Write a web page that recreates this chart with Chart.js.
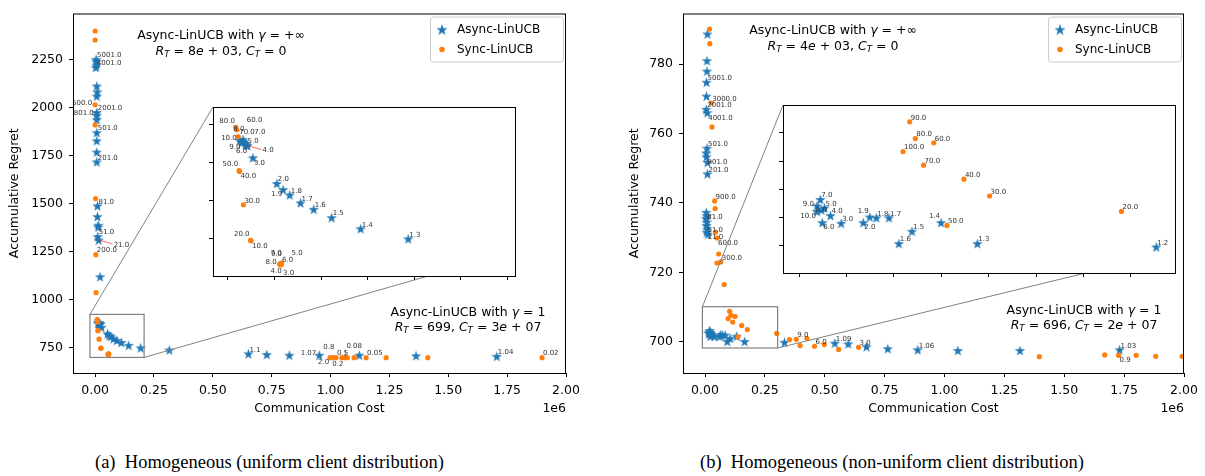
<!DOCTYPE html>
<html>
<head>
<meta charset="utf-8">
<title>Async-LinUCB vs Sync-LinUCB</title>
<script src="https://cdn.jsdelivr.net/npm/chart.js@4.4.1/dist/chart.umd.min.js"></script>
<style>
  html, body { margin: 0; padding: 0; background: #fff; }
  #wrap { position: relative; width: 1205px; height: 476px; overflow: hidden; background: #fff; }
  canvas { position: absolute; }
  .cap { position: absolute; top: 452px; font: 18.5px "Liberation Serif", serif; white-space: pre; color: #000; }
</style>
</head>
<body>
<div id="wrap">
  <canvas id="mainA" width="600" height="420" style="left:0px;top:0px"></canvas>
  <canvas id="insetA" width="313" height="179" style="left:208px;top:102px"></canvas>
  <canvas id="mainB" width="595" height="420" style="left:610px;top:0px"></canvas>
  <canvas id="insetB" width="403" height="178" style="left:778px;top:100px"></canvas>
  <div class="cap" style="left:95px">(a)  Homogeneous (uniform client distribution)</div>
  <div class="cap" style="left:700px">(b)  Homogeneous (non-uniform client distribution)</div>
</div>
<script>
const BLUE = '#1f77b4';
const ORANGE = '#ff7f0e';

// ---- (a) uniform client distribution ----
const asyncCostA = [4000, 5000, 3000, 6000, 7000, 9000, 7000, 7000, 7000, 7000,
  7000, 7000, 7000, 7000, 10000, 10000, 13000, 13000, 11000, 15000,
  21000, 12700, 14500, 16000, 17500, 19000, 20000, 21000, 26800, 52500,
  59200, 66300, 77900, 92000, 111300, 142400, 193400, 315000, 651000, 729000,
  825000, 952000, 1122000, 1363000, 1706000];
const asyncRegretA = [2250, 2240, 2208, 2220, 2112, 2081, 2059, 1974, 1960, 1937,
  1869, 1827, 1768, 1717, 1488, 1432, 1387, 1378, 1328, 1310,
  1119, 879, 876, 880, 877, 874, 873, 872, 856, 822,
  814, 807, 796.5, 788, 777, 762.4, 749, 738, 718, 714,
  711, 711, 711, 708, 705];
const asyncTagA = ['5001.0', '', '4001.0', '', '', '', '', '2001.0', '801.0', '',
  '501.0', '', '', '201.0', '81.0', '', '', '', '51.0', '21.0',
  '', '10.0', '9.0', '8.0', '7.0', '6.0', '5.0', '4.0', '3.0', '2.0',
  '1.9', '1.8', '1.7', '1.6', '1.5', '1.4', '1.3', '', '1.1', '',
  '', '1.07', '', '', '1.04'];
const asyncSideA = 'rrrrrrrrlr' + 'rrrrrrrrra' + 'rlLuRbradr' + 'Lrrrrrrrrr' + 'rlrrr';

const syncCostA = [0, 0, 0, 0, 2000, 3000, 4000, 8500, 9500, 11000,
  12000, 12500, 16600, 24300, 24800, 56400, 56000, 57500, 57000, 55500,
  56000, 57000, 998000, 1010000, 1023000, 1048000, 1063000, 1071000, 1100000, 1151000,
  1236000, 1413000, 1898000];
const syncRegretA = [2398, 2351, 2014, 1909, 1526, 1234, 1036, 896, 893, 884,
  839, 838, 794, 747, 746.5, 716, 716.5, 717, 716, 715.5,
  715, 715, 698, 698, 698, 698, 698, 698, 698, 698,
  698, 698, 698];
const syncTagA = ['', '', '500.0', '', '', '200.0', '', '80.0', '60.0', '70.0',
  '50.0', '40.0', '30.0', '20.0', '10.0', '9.0', '7.0', '5.0', '6.0', '8.0',
  '4.0', '3.0', '2.0', '0.8', '0.5', '0.2', '0.08', '', '', '0.05',
  '', '', '0.02'];
const syncSideA = 'rrlrrrrURr' + 'UdrUduuRrl' + 'bDLurbArrr' + 'rrr';

// ---- (b) non-uniform client distribution ----
const asyncCostB = [10000, 8000, 8000, 6000, 6000, 5000, 9000, 8000, 5000, 6000,
  10000, 10000, 5000, 7000, 4000, 8000, 6000, 9000, 7000, 12000,
  19700, 16500, 23600, 20600, 16500, 29100, 21500, 39000, 59500, 65600,
  71700, 83400, 92600, 104800, 131800, 165500, 331600, 542000, 598000, 674000,
  763000, 888000, 1056000, 1315000, 1731000];
const asyncRegretB = [788.7, 781, 778, 774.8, 770.8, 767, 766, 755.8, 754.4, 753.3,
  751.7, 748.4, 737.3, 736.3, 735.5, 734.5, 733.5, 732.5, 731.6, 731,
  703.25, 702.8, 702.65, 702.5, 702.4, 702.1, 701.6, 701.55, 701.6, 702.0,
  701.95, 701.95, 700.1, 700.98, 701.6, 700.1, 699.86, 699.6, 699.4, 698.6,
  698.0, 697.7, 697.5, 697.5, 697.7];
const asyncTagB = ['', '', '', '5001.0', '', '2001.0', '4001.0', '501.0', '', '801.0',
  '', '201.0', '81.0', '', '', '', '51.0', '', '21.0', '',
  '7.0', '9.0', '5.0', '8.0', '10.0', '4.0', '6.0', '3.0', '2.0', '1.9',
  '1.8', '1.7', '1.6', '1.5', '1.4', '1.3', '1.2', '1.09', '', '',
  '', '1.06', '', '', '1.03'];
const asyncSideB = 'rrrrrrdrrd' + 'rrdrrrdrdr' + 'rlrmLrdrdU' + 'rrrrUrrrrr' + 'rrrrr';

const syncCostB = [19000, 20000, 26000, 29000, 40000, 42000, 44000, 50000, 57000, 50000,
  66000, 80000, 102700, 107900, 125000, 96500, 115600, 153000, 176900, 299400,
  137300, 353000, 381000, 397000, 425000, 457000, 498000, 558000, 641000, 1396000,
  1669000, 1727000, 1800000, 1882000, 1992000];
const syncRegretB = [790.1, 785.9, 768.8, 761.9, 740.6, 738.4, 731.6, 729.9, 725.3, 722.7,
  723.0, 716.5, 708.8, 707.6, 707.3, 706.67, 705.7, 704.7, 703.5, 702.4,
  701.4, 700.6, 700.7, 698.9, 701.0, 698.7, 699.2, 697.8, 698.4, 695.7,
  696.2, 696.1, 696.1, 695.8, 695.8];
const syncTagB = ['', '', '3000.0', '', '900.0', '', '', '600.0', '', '',
  '300.0', '', '90.0', '80.0', '60.0', '100.0', '70.0', '40.0', '30.0', '20.0',
  '50.0', '', '9.0', '', '', '6.0', '', '', '3.0', '',
  '', '0.9', '', '', '0.6'];
const syncSideB = 'rrrrrrrdrr' + 'rrrrrrrrrr' + 'rrrrrrrrrr' + 'rdrrr';

// ---- ticks ----
const xTicks = [0, 250000, 500000, 750000, 1000000, 1250000, 1500000, 1750000, 2000000];
const yTicksA = [750, 1000, 1250, 1500, 1750, 2000, 2250];
const yTicksB = [700, 720, 740, 760, 780];
const insetXTicksA = [0, 50000, 100000, 150000, 200000, 250000, 300000];
const insetYTicksA = [750, 800, 850, 900];
const insetXTicksB = [0, 44000, 88000, 132000, 176000, 220000, 264000, 308000];
const insetYTicksB = [700, 702, 704, 706, 708];

// marked box in the main plot, and the limits of the inset
const boxA = { x: [-22000, 208000], y: [699, 923] };
const insetRangeA = { x: [-16000, 309000], y: [700, 923] };
const boxB = { x: [-11000, 303000], y: [698.2, 710.1] };
const insetRangeB = { x: [-15000, 350000], y: [698, 710] };

// where a point's tag sits: dx, dy, align
const TAG_OFFSETS = {
  r: [1, -4, 'left'], d: [1, 5, 'left'], D: [2, 9, 'left'], R: [10, -10, 'left'],
  l: [-3, -2, 'right'], L: [-1, 5, 'right'], U: [-1, -6, 'right'],
  u: [-4, -10, 'center'], b: [-4, 7, 'center'], m: [0, 0, 'center'],
  a: [15, 5, 'left'], A: [1, -11, 'left']
};

function makeStar(size) {
  const c = document.createElement('canvas');
  c.width = c.height = size;
  const g = c.getContext('2d');
  const R = size / 2, r = R * 0.382, cx = size / 2, cy = size / 2 + R * 0.1;
  g.beginPath();
  for (let i = 0; i < 10; i++) {
    const ang = -Math.PI / 2 + i * Math.PI / 5;
    const rad = i % 2 === 0 ? R : r;
    g.lineTo(cx + rad * Math.cos(ang), cy + rad * Math.sin(ang));
  }
  g.closePath();
  g.fillStyle = BLUE;
  g.fill();
  return c;
}
const STAR = makeStar(11);
const STAR_LEG = makeStar(12);

function points(xs, ys) {
  return xs.map((x, i) => ({ x: x, y: ys[i] }));
}

function datasets(p) {
  return [
    { label: 'Sync-LinUCB', data: points(p.syncCost, p.syncRegret), tags: p.syncTag, sides: p.syncSide,
      pointStyle: 'circle', pointRadius: 2.6, pointBorderWidth: 0,
      backgroundColor: ORANGE, borderColor: ORANGE, order: 0, clip: 0 },
    { label: 'Async-LinUCB', data: points(p.asyncCost, p.asyncRegret), tags: p.asyncTag, sides: p.asyncSide,
      pointStyle: STAR, pointRadius: 5, pointBorderWidth: 0,
      backgroundColor: BLUE, borderColor: BLUE, order: 1, clip: 0 }
  ];
}

function axis(range, ticks, fit, showLabels, fmt) {
  return {
    type: 'linear', min: range[0], max: range[1],
    afterBuildTicks: s => { s.ticks = ticks.map(v => ({ value: v })); },
    afterFit: fit,
    ticks: {
      display: showLabels, color: '#000', font: { family: 'DejaVu Sans', size: 12.5 },
      autoSkip: false, maxRotation: 0, padding: 6, callback: fmt || (v => String(v))
    },
    grid: { drawOnChartArea: false, drawTicks: true, tickLength: 4, tickColor: '#000', tickWidth: 1 },
    border: { display: false }
  };
}

const tagPlugin = {
  id: 'pointTags',
  afterDatasetsDraw(chart, args, opts) {
    const ctx = chart.ctx, a = chart.chartArea, skip = opts.skip;
    ctx.save();
    ctx.beginPath();
    ctx.rect(a.left, a.top, a.right - a.left, a.bottom - a.top);
    ctx.clip();
    ctx.font = '7px "DejaVu Sans"';
    ctx.textBaseline = 'middle';
    chart.data.datasets.forEach((ds, di) => {
      const meta = chart.getDatasetMeta(di);
      ds.tags.forEach((tag, i) => {
        if (!tag) return;
        const pt = ds.data[i], el = meta.data[i];
        if (el.x < a.left || el.x > a.right || el.y < a.top || el.y > a.bottom) return;
        // points shown in the inset carry their tags there, not in the main plot
        if (skip && pt.x >= skip.x[0] && pt.x <= skip.x[1] && pt.y >= skip.y[0] && pt.y <= skip.y[1]) return;
        const side = ds.sides[i] || 'r';
        const off = TAG_OFFSETS[side];
        if (side === 'a' || side === 'A') {
          ctx.strokeStyle = 'rgba(255,0,0,0.75)';
          ctx.lineWidth = 0.8;
          ctx.beginPath();
          ctx.moveTo(el.x, el.y);
          ctx.lineTo(el.x + off[0] - 1, el.y + off[1] + (side === 'A' ? 3 : -1));
          ctx.stroke();
        }
        ctx.fillStyle = '#333';
        ctx.textAlign = off[2];
        ctx.fillText(tag, el.x + off[0], el.y + off[1]);
      });
    });
    ctx.restore();
  }
};

const framePlugin = {
  id: 'frame',
  beforeDraw(chart, args, opts) {
    if (!opts.white) return;
    const a = chart.chartArea, ctx = chart.ctx;
    ctx.save();
    ctx.fillStyle = '#fff';
    ctx.fillRect(a.left, a.top, a.right - a.left, a.bottom - a.top);
    ctx.restore();
  },
  afterDraw(chart) {
    const a = chart.chartArea, ctx = chart.ctx;
    ctx.save();
    ctx.strokeStyle = '#000';
    ctx.lineWidth = 1;
    ctx.strokeRect(a.left + 0.5, a.top + 0.5, a.right - a.left - 1, a.bottom - a.top);
    ctx.restore();
  }
};

function richText(ctx, parts, cx, cy, size) {
  const fam = '"DejaVu Sans"';
  const fontOf = k => k === 'n' ? size + 'px ' + fam : k === 'i' ? 'italic ' + size + 'px ' + fam : 'italic ' + (size * 0.7) + 'px ' + fam;
  let w = 0;
  parts.forEach(([t, k]) => { ctx.font = fontOf(k); w += ctx.measureText(t).width; });
  let x = cx - w / 2;
  ctx.textAlign = 'left';
  ctx.textBaseline = 'alphabetic';
  parts.forEach(([t, k]) => {
    ctx.font = fontOf(k);
    ctx.fillText(t, x, cy + size * 0.36 + (k === 's' ? size * 0.22 : 0));
    x += ctx.measureText(t).width;
  });
}

function mainDecor(cfg) {
  return {
    id: 'decor',
    afterDraw(chart) {
      const ctx = chart.ctx, a = chart.chartArea;
      const xs = chart.scales.x, ys = chart.scales.y;
      ctx.save();
      // marked box + connectors to the inset
      const x0 = xs.getPixelForValue(cfg.box.x[0]), x1 = xs.getPixelForValue(cfg.box.x[1]);
      const y0 = ys.getPixelForValue(cfg.box.y[1]), y1 = ys.getPixelForValue(cfg.box.y[0]);
      ctx.strokeStyle = '#808080';
      ctx.lineWidth = 1.2;
      ctx.strokeRect(x0, y0, x1 - x0, y1 - y0);
      const ins = cfg.inset, ia = ins.chartArea;
      const ox = ins.canvas.offsetLeft - chart.canvas.offsetLeft;
      const oy = ins.canvas.offsetTop - chart.canvas.offsetTop;
      ctx.lineWidth = 1;
      ctx.beginPath();
      ctx.moveTo(x0, y0);
      ctx.lineTo(ox + ia.left, oy + ia.top);
      ctx.moveTo(x1, y1);
      ctx.lineTo(ox + ia.left + cfg.linkAt * (ia.right - ia.left), oy + ia.bottom);
      ctx.stroke();

      // legend
      const lw = 133, lh = 45, lx = a.right - 3 - lw, ly = a.top + 3;
      ctx.fillStyle = 'rgba(255,255,255,0.8)';
      ctx.strokeStyle = '#cccccc';
      ctx.beginPath();
      ctx.roundRect(lx + 0.5, ly + 0.5, lw, lh, 3);
      ctx.fill();
      ctx.stroke();
      ctx.drawImage(STAR_LEG, lx + 12 - 6, ly + 13 - 6);
      ctx.fillStyle = ORANGE;
      ctx.beginPath();
      ctx.arc(lx + 12, ly + 33, 2.8, 0, Math.PI * 2);
      ctx.fill();
      ctx.fillStyle = '#000';
      ctx.font = '12px "DejaVu Sans"';
      ctx.textAlign = 'left';
      ctx.textBaseline = 'middle';
      ctx.fillText('Async-LinUCB', lx + 27, ly + 13);
      ctx.fillText('Sync-LinUCB', lx + 27, ly + 33);

      // annotations
      ctx.fillStyle = '#000';
      cfg.notes.forEach(n => richText(ctx, n.parts, n.x, n.y, 12.5));

      // axis titles
      ctx.font = '12.5px "DejaVu Sans"';
      ctx.textBaseline = 'middle';
      ctx.textAlign = 'center';
      ctx.fillText('Communication Cost', (a.left + a.right) / 2, 409);
      ctx.textAlign = 'right';
      ctx.fillText('1e6', a.right, 409);
      ctx.translate(a.left - cfg.yTitleGap, (a.top + a.bottom) / 2);
      ctx.rotate(-Math.PI / 2);
      ctx.textAlign = 'center';
      ctx.fillText('Accumulative Regret', 0, 0);
      ctx.restore();
    }
  };
}

const gammaInf = [['Async-LinUCB with ', 'n'], ['γ', 'i'], [' = +∞', 'n']];
const gammaOne = [['Async-LinUCB with ', 'n'], ['γ', 'i'], [' = 1', 'n']];
function rtct(r1, r2, e1, c1, c2, e2) {
  const p = [['R', 'i'], ['T', 's'], [' = ' + r1, 'n']];
  if (e1) p.push(['e', 'i'], [' + ' + r2, 'n']);
  p.push([', ', 'n'], ['C', 'i'], ['T', 's'], [' = ' + c1, 'n']);
  if (e2) p.push(['e', 'i'], [' + ' + c2, 'n']);
  return p;
}

function makeInset(id, p, range, xt, yt) {
  const el = document.getElementById(id);
  return new Chart(el, {
    type: 'scatter',
    data: { datasets: datasets(p) },
    options: {
      responsive: false, animation: false, events: [],
      layout: { padding: { top: 0, right: 1, left: 0, bottom: 0 } },
      plugins: { legend: { display: false }, tooltip: { enabled: false }, pointTags: {}, frame: { white: true } },
      scales: {
        x: axis(range.x, xt, s => { s.height = 5; }, false),
        y: axis(range.y, yt, s => { s.width = 5; }, false)
      }
    },
    plugins: [framePlugin, tagPlugin]
  });
}

function makeMain(id, p, cfg) {
  const el = document.getElementById(id);
  return new Chart(el, {
    type: 'scatter',
    data: { datasets: datasets(p) },
    options: {
      responsive: false, animation: false, events: [],
      layout: { padding: { top: cfg.padTop, right: cfg.padRight, left: 0, bottom: 0 } },
      plugins: { legend: { display: false }, tooltip: { enabled: false }, pointTags: { skip: cfg.insetRange }, frame: {} },
      scales: {
        x: axis(cfg.xRange, xTicks, s => { s.height = 47; }, true, v => (v / 1e6).toFixed(2)),
        y: axis(cfg.yRange, cfg.yTicks, s => { s.width = 73; }, true)
      }
    },
    plugins: [framePlugin, tagPlugin, mainDecor(cfg)]
  });
}

const panelA = { asyncCost: asyncCostA, asyncRegret: asyncRegretA, asyncTag: asyncTagA, asyncSide: asyncSideA,
  syncCost: syncCostA, syncRegret: syncRegretA, syncTag: syncTagA, syncSide: syncSideA };
const panelB = { asyncCost: asyncCostB, asyncRegret: asyncRegretB, asyncTag: asyncTagB, asyncSide: asyncSideB,
  syncCost: syncCostB, syncRegret: syncRegretB, syncTag: syncTagB, syncSide: syncSideB };

const insetA = makeInset('insetA', panelA, insetRangeA, insetXTicksA, insetYTicksA);
const insetB = makeInset('insetB', panelB, insetRangeB, insetXTicksB, insetYTicksB);

makeMain('mainA', panelA, {
  box: boxA, insetRange: insetRangeA, inset: insetA, linkAt: 0.71, padTop: 5, padRight: 34, yTitleGap: 58,
  xRange: [-94000, 2000000], yRange: [618, 2489], yTicks: yTicksA,
  notes: [
    { parts: gammaInf, x: 221, y: 34 },
    { parts: rtct('8', '03', true, '0', '', false), x: 221, y: 50 },
    { parts: gammaOne, x: 468, y: 311 },
    { parts: rtct('699', '', false, '3', '07', true), x: 468, y: 326 }
  ]
});

makeMain('mainB', panelB, {
  box: boxB, insetRange: insetRangeB, inset: insetB, linkAt: 0.77, padTop: 1, padRight: 21, yTitleGap: 48,
  xRange: [-92000, 2000000], yRange: [691, 794.6], yTicks: yTicksB,
  notes: [
    { parts: gammaInf, x: 223, y: 29 },
    { parts: rtct('4', '03', true, '0', '', false), x: 223, y: 45 },
    { parts: gammaOne, x: 474, y: 309 },
    { parts: rtct('696', '', false, '2', '07', true), x: 474, y: 324 }
  ]
});
</script>
</body>
</html>
